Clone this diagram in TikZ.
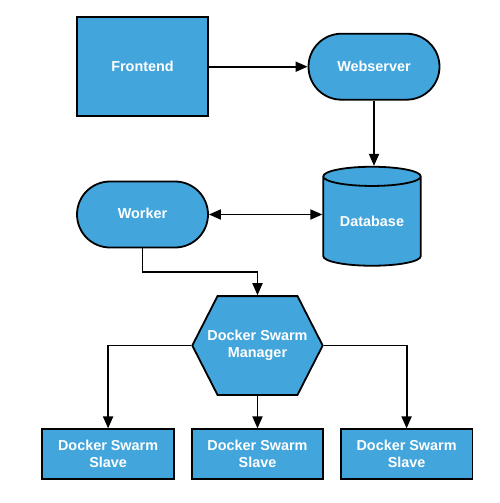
\documentclass[tikz,border=0pt]{standalone}
\usepackage{fontspec}
\setmainfont{Liberation Sans}
\usepackage{xcolor}
\usepackage{tikz}
\usetikzlibrary{positioning,shapes.geometric,shapes.misc,arrows.meta}
\definecolor{swarmblue}{HTML}{42A5DC}
\tikzset{
    block/.style={
        rectangle,
        draw=black,
        line width=1.8pt,
        fill=swarmblue,
        text=white,
        align=center,
        font=\fontsize{14.4}{17.6}\selectfont\bfseries,
        inner sep=0pt
    },
    pill/.style={
        block,
        rounded rectangle,
        minimum width=131pt,
        minimum height=66pt
    },
    slavebox/.style={
        block,
        minimum width=131.6pt,
        minimum height=49.4pt
    },
    arrow/.style={
        -{Triangle[length=12pt,width=10pt]},
        line width=1.8pt
    }
}
\begin{document}
\begin{tikzpicture}[x=1pt,y=1pt]
          \useasboundingbox (0,0) rectangle (500,-503);
          \node (front) [block, minimum width=131.6pt, minimum height=98.7pt] at (142.5,-66.7) {Frontend};
          \node (web) [pill, right=98.4pt of front] {Webserver};
          \node (db) [block, cylinder, shape border rotate=90, aspect=0.3, minimum width=97.5pt, minimum height=99pt] at (372,-221.5) {\raisebox{-6pt}{Database}};
          \node (wk) [pill] at (142.5,-214.5) {\raisebox{1.5pt}{Worker}};
          % hexagon for the manager
          \coordinate (mc) at (257.5,-345.5);
          \draw [block] (mc) ++(-65.2,0) -- ++(25.2,49.4) -- ++(80,0) -- ++(25.2,-49.4) -- ++(-25.2,-49.4) -- ++(-80,0) -- cycle;
          \node (mgr) [block, draw=none, fill=none, minimum width=130.4pt, minimum height=98.8pt] at (mc) {Docker Swarm\\Manager};
          \node (s2) [slavebox, below=32.6pt of mgr] {Docker Swarm\\Slave};
          \node (s1) [slavebox, left=16pt of s2] {Docker Swarm\\Slave};
          \node (s3) [slavebox, right=15.7pt of s2] {Docker Swarm\\Slave};
          \draw [arrow] (front.east) -- (web.west);
          \draw [arrow] (web.south) -- (web.south |- db.north);
          \draw [arrow, {Triangle[length=12pt,width=10pt]}-{Triangle[length=12pt,width=10pt]}] (wk.east) -- (wk.east -| db.west);
          \draw [arrow] (wk.south) -- ++(0,-23.4) -| (mgr.north);
          \draw [arrow] (mgr.west) -| (s1.north);
          \draw [arrow] (mgr.south) -- (s2.north);
          \draw [arrow] (mgr.east) -| (s3.north);
        \end{tikzpicture}
\end{document}
